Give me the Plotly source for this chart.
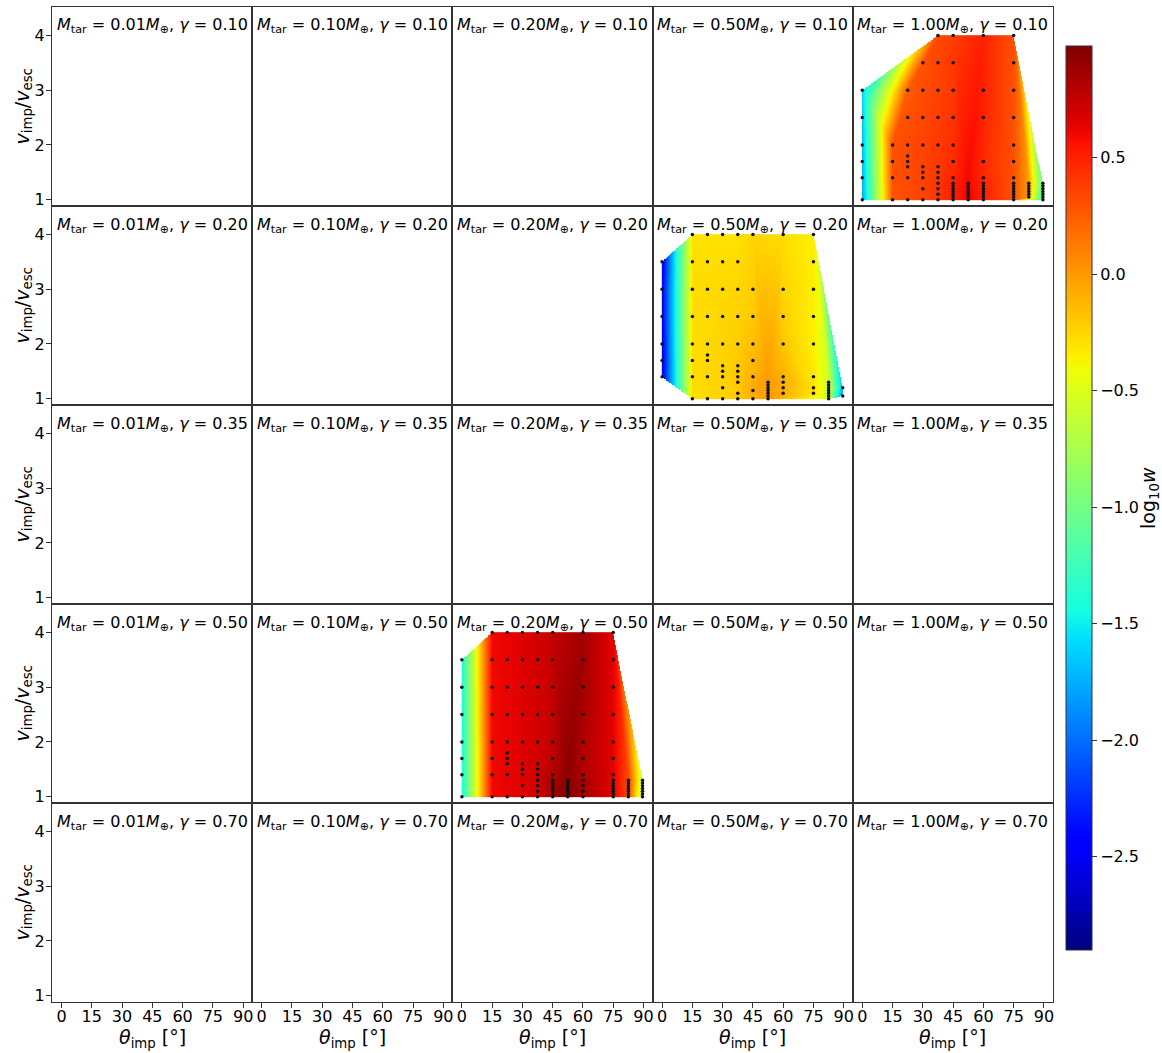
import numpy as np
import plotly.graph_objects as go
from plotly.subplots import make_subplots

# ---------------- data ----------------
MASSES = ["0.01", "0.10", "0.20", "0.50", "1.00"]          # columns
GAMMAS = ["0.10", "0.20", "0.35", "0.50", "0.70"]          # rows
THETA_TICKS = [0, 15, 30, 45, 60, 75, 90]
V_TICKS = [1, 2, 3, 4]
CBAR_TICKS = [-2.5, -2.0, -1.5, -1.0, -0.5, 0.0, 0.5]

COLS = [0, 15, 22.5, 30, 37.5, 45, 52.5, 60, 75, 82.5, 89.5]

# panel: M_tar = 1.00, gamma = 0.10  (row 1, col 5)
P1_V = [
    [1.0, 1.4, 1.7, 2.0, 2.5, 3.0],
    [1.0, 1.4, 1.7, 2.0],
    [1.0, 1.4, 1.6, 1.7, 1.8, 2.0, 2.5, 3.0],
    [1.0, 1.2, 1.4, 1.5, 1.6, 2.0, 2.5, 3.0, 3.5],
    [1.0, 1.1, 1.2, 1.3, 1.4, 1.5, 1.6, 2.0, 2.5, 3.0, 3.5, 4.0],
    [1.0, 1.05, 1.1, 1.15, 1.2, 1.25, 1.3, 1.4, 1.7, 2.0, 2.5, 3.0, 3.5, 4.0],
    [1.0, 1.05, 1.1, 1.15, 1.2, 1.25, 1.3],
    [1.0, 1.05, 1.1, 1.15, 1.2, 1.25, 1.3, 1.4, 1.7, 2.5, 3.0, 4.0],
    [1.0, 1.05, 1.1, 1.15, 1.2, 1.25, 1.3, 1.4, 1.7, 2.0, 2.5, 3.0, 3.5, 4.0],
    [1.05, 1.1, 1.15, 1.2, 1.25, 1.3],
    [1.0, 1.05, 1.1, 1.15, 1.2, 1.25, 1.3],
]
P1_W = [
    [-1.75, -1.72, -1.7, -1.68, -1.65, -1.6],
    [0.28, 0.3, 0.3, 0.3],
    [0.32, 0.33, 0.33, 0.33, 0.33, 0.33, 0.3, 0.26],
    [0.35, 0.36, 0.36, 0.36, 0.36, 0.36, 0.34, 0.32, 0.3],
    [0.42, 0.42, 0.42, 0.42, 0.42, 0.4, 0.4, 0.4, 0.38, 0.36, 0.35, 0.33],
    [0.5, 0.5, 0.5, 0.5, 0.5, 0.5, 0.5, 0.48, 0.45, 0.44, 0.42, 0.4, 0.4, 0.38],
    [0.62, 0.62, 0.62, 0.62, 0.6, 0.6, 0.6],
    [0.5, 0.5, 0.5, 0.5, 0.5, 0.5, 0.5, 0.48, 0.46, 0.48, 0.5, 0.5],
    [0.3, 0.3, 0.3, 0.3, 0.3, 0.3, 0.3, 0.3, 0.3, 0.3, 0.3, 0.3, 0.3, 0.3],
    [0.0, 0.0, 0.0, 0.0, 0.0, 0.0],
    [-1.4, -1.35, -1.3, -1.25, -1.2, -1.15, -1.1],
]

# panel: M_tar = 0.50, gamma = 0.20  (row 2, col 4)
P2_V = [
    [1.4, 1.7, 2.0, 2.5, 3.0, 3.5],
    [1.0, 1.4, 1.7, 2.0, 2.5, 3.0, 3.5, 4.0],
    [1.0, 1.4, 1.7, 1.8, 2.0, 2.5, 3.0, 3.5, 4.0],
    [1.0, 1.2, 1.4, 1.5, 1.6, 2.0, 2.5, 3.0, 3.5, 4.0],
    [1.0, 1.1, 1.3, 1.4, 1.5, 1.6, 2.0, 2.5, 3.0, 3.5, 4.0],
    [1.0, 1.15, 1.4, 1.7, 2.0, 2.5, 3.0, 4.0],
    [1.0, 1.05, 1.1, 1.15, 1.2, 1.25, 1.3],
    [1.1, 1.2, 1.3, 1.4, 2.0, 2.5, 3.0, 4.0],
    [1.1, 1.2, 1.4, 2.0, 2.5, 3.0, 3.5, 4.0],
    [1.0, 1.05, 1.1, 1.15, 1.2, 1.25, 1.3],
    [1.05, 1.2],
]
P2_W = [
    [-2.5, -2.5, -2.48, -2.45, -2.45, -2.5],
    [-0.28, -0.28, -0.28, -0.28, -0.28, -0.28, -0.28, -0.3],
    [-0.26, -0.26, -0.26, -0.26, -0.26, -0.27, -0.27, -0.28, -0.3],
    [-0.24, -0.24, -0.24, -0.24, -0.24, -0.24, -0.25, -0.26, -0.28, -0.3],
    [-0.2, -0.2, -0.2, -0.2, -0.2, -0.2, -0.22, -0.23, -0.25, -0.27, -0.3],
    [-0.08, -0.06, -0.1, -0.12, -0.15, -0.2, -0.22, -0.25],
    [0.0, 0.0, 0.0, 0.0, 0.0, 0.0, 0.0],
    [-0.08, -0.08, -0.08, -0.1, -0.18, -0.22, -0.24, -0.28],
    [-0.3, -0.3, -0.32, -0.35, -0.35, -0.35, -0.35, -0.35],
    [-0.55, -0.55, -0.55, -0.55, -0.55, -0.55, -0.55],
    [-1.9, -1.7],
]

# panel: M_tar = 0.20, gamma = 0.50  (row 4, col 3)
P3_V = [
    [1.0, 1.4, 1.7, 2.0, 2.5, 3.0, 3.5],
    [1.0, 1.4, 1.7, 2.0, 2.5, 3.0, 3.5, 4.0],
    [1.0, 1.4, 1.6, 1.7, 1.8, 2.0, 2.5, 3.0, 3.5, 4.0],
    [1.0, 1.2, 1.4, 1.5, 1.6, 2.0, 2.5, 3.0, 3.5, 4.0],
    [1.0, 1.1, 1.2, 1.3, 1.4, 1.5, 1.6, 2.0, 2.5, 3.0, 3.5, 4.0],
    [1.0, 1.05, 1.1, 1.15, 1.2, 1.25, 1.3, 1.4, 1.7, 2.0, 2.5, 3.0, 3.5, 4.0],
    [1.0, 1.05, 1.1, 1.15, 1.2, 1.25, 1.3],
    [1.0, 1.1, 1.2, 1.3, 1.4, 1.7, 2.0, 2.5, 3.0, 3.5, 4.0],
    [1.0, 1.05, 1.1, 1.15, 1.2, 1.25, 1.3, 1.4, 1.7, 2.0, 2.5, 3.0, 3.5, 4.0],
    [1.0, 1.05, 1.1, 1.15, 1.2, 1.25, 1.3],
    [1.0, 1.05, 1.1, 1.15, 1.2, 1.25, 1.3],
]
P3_W = [
    [-1.45, -1.45, -1.45, -1.45, -1.43, -1.42, -1.4],
    [0.6, 0.6, 0.6, 0.6, 0.6, 0.6, 0.6, 0.6],
    [0.63, 0.63, 0.63, 0.63, 0.63, 0.63, 0.63, 0.63, 0.63, 0.63],
    [0.66, 0.66, 0.66, 0.66, 0.66, 0.66, 0.66, 0.66, 0.66, 0.66],
    [0.7, 0.7, 0.7, 0.7, 0.7, 0.7, 0.7, 0.7, 0.7, 0.7, 0.7, 0.7],
    [0.85, 0.85, 0.85, 0.85, 0.85, 0.85, 0.85, 0.8, 0.78, 0.76, 0.75, 0.75, 0.75, 0.75],
    [0.97, 0.97, 0.97, 0.96, 0.95, 0.95, 0.94],
    [0.85, 0.85, 0.85, 0.85, 0.82, 0.82, 0.82, 0.84, 0.86, 0.86, 0.86],
    [0.65, 0.65, 0.65, 0.65, 0.65, 0.65, 0.65, 0.65, 0.65, 0.65, 0.65, 0.65, 0.65, 0.65],
    [0.35, 0.35, 0.35, 0.35, 0.35, 0.35, 0.35],
    [-0.75, -0.75, -0.7, -0.7, -0.65, -0.65, -0.6],
]

PANELS = [  # (row, col, v-lists, logw-lists)
    (1, 5, P1_V, P1_W),
    (2, 4, P2_V, P2_W),
    (4, 3, P3_V, P3_W),
]

CMIN, CMAX = -2.9, 0.98

# ---------------- helpers ----------------
def jet_scale(n=65):
    t = np.linspace(0, 1, n)
    r = np.interp(t, [0, 0.35, 0.66, 0.89, 1], [0, 0, 1, 1, 0.5])
    g = np.interp(t, [0, 0.125, 0.375, 0.64, 0.91, 1], [0, 0, 1, 1, 0, 0])
    b = np.interp(t, [0, 0.11, 0.34, 0.65, 1], [0.5, 1, 1, 0, 0])
    return [[float(tt), "rgb(%d,%d,%d)" % (round(rr * 255), round(gg * 255), round(bb * 255))]
            for tt, rr, gg, bb in zip(t, r, g, b)]


def delaunay(px, py):
    P = np.column_stack([px, py]).astype(float)
    n = len(P)
    cx, cy = P.mean(0)
    R = 1e5
    P = np.vstack([P, [[cx - 2 * R, cy - R], [cx + 2 * R, cy - R], [cx, cy + 2 * R]]])

    def circ(a, b, c):
        ax, ay = P[a]; bx, by = P[b]; qx, qy = P[c]
        d = 2 * (ax * (by - qy) + bx * (qy - ay) + qx * (ay - by))
        if abs(d) < 1e-12:
            return (0.0, 0.0, -1.0)
        a2, b2, q2 = ax * ax + ay * ay, bx * bx + by * by, qx * qx + qy * qy
        ux = (a2 * (by - qy) + b2 * (qy - ay) + q2 * (ay - by)) / d
        uy = (a2 * (qx - bx) + b2 * (ax - qx) + q2 * (bx - ax)) / d
        return (ux, uy, (ax - ux) ** 2 + (ay - uy) ** 2)

    tris = [((n, n + 1, n + 2), circ(n, n + 1, n + 2))]
    for i in range(n):
        x, y = P[i]
        bad, keep = [], []
        for t in tris:
            ux, uy, r2 = t[1]
            if r2 > 0 and (x - ux) ** 2 + (y - uy) ** 2 < r2 * (1 - 1e-12):
                bad.append(t)
            else:
                keep.append(t)
        edges = {}
        for (a, b, c), _ in bad:
            for e in ((a, b), (b, c), (c, a)):
                k = tuple(sorted(e))
                edges[k] = edges.get(k, 0) + 1
        for (a, b), cnt in edges.items():
            if cnt == 1:
                keep.append(((a, b, i), circ(a, b, i)))
        tris = keep
    return [t[0] for t in tris if max(t[0]) < n]


def interp_grid(px, py, pz, tris, gx, gy):
    Z = np.full((len(gy), len(gx)), np.nan)
    eps = 1e-9
    for a, b, c in tris:
        x1, y1, z1 = px[a], py[a], pz[a]
        x2, y2, z2 = px[b], py[b], pz[b]
        x3, y3, z3 = px[c], py[c], pz[c]
        det = (y2 - y3) * (x1 - x3) + (x3 - x2) * (y1 - y3)
        if abs(det) < 1e-12:
            continue
        i0, i1 = np.searchsorted(gx, min(x1, x2, x3) - 1e-7), np.searchsorted(gx, max(x1, x2, x3) + 1e-7)
        j0, j1 = np.searchsorted(gy, min(y1, y2, y3) - 1e-7), np.searchsorted(gy, max(y1, y2, y3) + 1e-7)
        if i1 <= i0 or j1 <= j0:
            continue
        X, Y = np.meshgrid(gx[i0:i1], gy[j0:j1])
        l1 = ((y2 - y3) * (X - x3) + (x3 - x2) * (Y - y3)) / det
        l2 = ((y3 - y1) * (X - x3) + (x1 - x3) * (Y - y3)) / det
        l3 = 1 - l1 - l2
        m = (l1 >= -eps) & (l2 >= -eps) & (l3 >= -eps)
        sub = Z[j0:j1, i0:i1]
        sub[m] = (l1 * z1 + l2 * z2 + l3 * z3)[m]
    return Z


# ---------------- figure ----------------
FONT = "DejaVu Sans"
W, H = 1162, 1053
L, R, T, B = 52, 109, 7, 51
PW, PH = W - L - R, H - T - B
CW, RH = PW / 5.0, PH / 5.0

fig = make_subplots(rows=5, cols=5, horizontal_spacing=0, vertical_spacing=0)

# invisible placeholder traces so that every subplot's axes are drawn
for r in range(1, 6):
    for c in range(1, 6):
        fig.add_trace(go.Scatter(x=[None], y=[None], mode="markers", showlegend=False,
                                 hoverinfo="skip"), row=r, col=c)

gx = np.round(np.arange(0, 89.5 + 1e-9, 0.25), 4)
gy = np.round(np.arange(1.0, 4.0 + 1e-9, 0.01), 4)

for row, col, vlist, wlist in PANELS:
    px, py, pz = [], [], []
    for th, vs, ws in zip(COLS, vlist, wlist):
        for v, w in zip(vs, ws):
            px.append(th); py.append(v); pz.append(w)
    px, py, pz = np.array(px, float), np.array(py, float), np.array(pz, float)
    tris = delaunay(px, py)
    Z = interp_grid(px, py, pz, tris, gx, gy)
    fig.add_trace(go.Heatmap(x=gx, y=gy, z=Z, coloraxis="coloraxis", hoverinfo="skip",
                             zsmooth=False), row=row, col=col)
    fig.add_trace(go.Scatter(x=px, y=py, mode="markers",
                             marker=dict(size=3.5, color="#111111"), hoverinfo="skip",
                             showlegend=False), row=row, col=col)

axis_common = dict(showline=True, mirror=True, linecolor="#333333", linewidth=1,
                   showgrid=False, zeroline=False, tickcolor="#333333", ticklen=5,
                   tickfont=dict(family=FONT, size=16, color="black"))

annotations = []
for r in range(1, 6):
    for c in range(1, 6):
        idx = (r - 1) * 5 + c
        xa = "xaxis" if idx == 1 else "xaxis%d" % idx
        ya = "yaxis" if idx == 1 else "yaxis%d" % idx
        fig.layout[xa].update(range=[-4.7, 94.5], tickvals=THETA_TICKS,
                              ticks="outside" if r == 5 else "",
                              showticklabels=(r == 5), **axis_common)
        fig.layout[ya].update(range=[0.885, 4.52], tickvals=V_TICKS,
                              ticks="outside" if c == 1 else "",
                              showticklabels=(c == 1), **axis_common)
        try:
            fig.layout[xa].ticklabelstandoff = -5
            fig.layout[ya].ticklabelstandoff = -2
        except Exception:
            pass
        cx_px = L + CW * (c - 0.5)
        cy_px = T + RH * (r - 1) + 19
        annotations.append(dict(
            text="<i>M</i><sub>tar</sub> = %s<i>M</i><sub>⊕</sub>, <i>γ</i> = %s" % (MASSES[c - 1], GAMMAS[r - 1]),
            xref="paper", yref="paper", x=(cx_px - L) / PW, y=1 - (cy_px - T) / PH,
            xanchor="center", yanchor="middle", showarrow=False,
            font=dict(family=FONT, size=16, color="black")))

# axis labels
for r in range(1, 6):
    ypx = T + RH * (r - 0.5)
    annotations.append(dict(text="<i>v</i><sub>imp</sub>/<i>v</i><sub>esc</sub>",
                            xref="paper", yref="paper", x=(23 - L) / PW, y=1 - (ypx - T) / PH,
                            xanchor="center", yanchor="middle", textangle=-90, showarrow=False,
                            font=dict(family=FONT, size=19, color="black")))
for c in range(1, 6):
    xpx = L + CW * (c - 0.5)
    annotations.append(dict(text="<i>θ</i><sub>imp</sub> [°]",
                            xref="paper", yref="paper", x=(xpx - L) / PW, y=-(1038 - (T + PH)) / PH,
                            xanchor="center", yanchor="middle", showarrow=False,
                            font=dict(family=FONT, size=19, color="black")))
# colorbar label
annotations.append(dict(text="log<sub>10</sub><i>w</i>", xref="paper", yref="paper",
                        x=(1150 - L) / PW, y=1 - (498 - T) / PH, xanchor="center", yanchor="middle",
                        textangle=-90, showarrow=False,
                        font=dict(family=FONT, size=19, color="black")))

fig.update_layout(
    width=W, height=H, margin=dict(l=L, r=R, t=T, b=B, pad=0),
    paper_bgcolor="white", plot_bgcolor="white", showlegend=False,
    font=dict(family=FONT, color="black"),
    annotations=annotations,
    coloraxis=dict(
        colorscale=jet_scale(), cmin=CMIN, cmax=CMAX,
        colorbar=dict(x=(1066 - L) / PW, xanchor="left", y=1 - (498 - T) / PH, yanchor="middle",
                      len=904, lenmode="pixels", thickness=26, thicknessmode="pixels",
                      xpad=0, ypad=0, outlinewidth=1, outlinecolor="#333333",
                      ticks="outside", ticklen=5, tickcolor="#333333",
                      tickvals=CBAR_TICKS, tickformat=".1f",
                      tickfont=dict(family=FONT, size=16, color="black")),
    ),
)

fig.write_html("out.html", config={"displayModeBar": False},
               post_script="document.body.style.margin='0px';document.body.style.overflow='hidden';")
